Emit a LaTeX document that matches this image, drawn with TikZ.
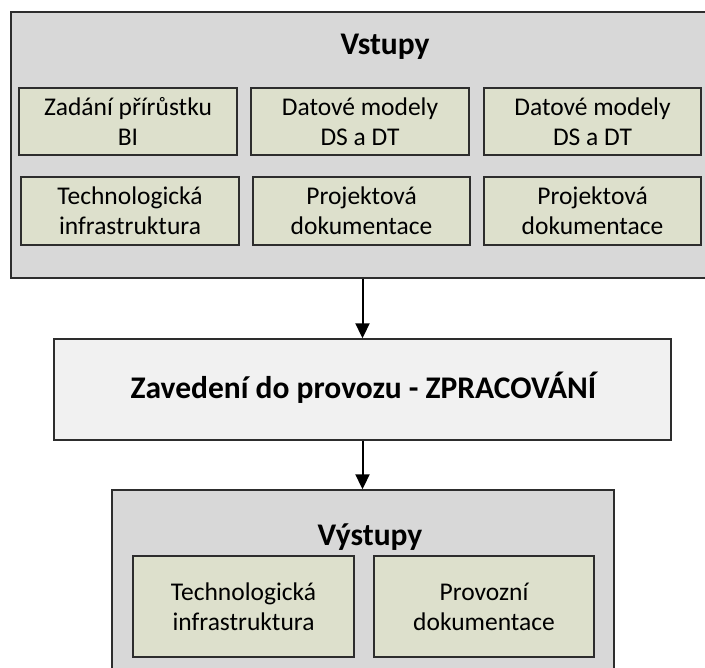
\documentclass[tikz,border=0pt]{standalone}
\usepackage{fontspec}
\setmainfont{Carlito}
\usetikzlibrary{arrows.meta}
\definecolor{outerfill}{RGB}{216,216,216}
\definecolor{innerfill}{RGB}{221,224,204}
\definecolor{midfill}{RGB}{241,241,241}
\definecolor{edge}{RGB}{45,45,45}
\begin{document}
\begin{tikzpicture}[x=1pt,y=-1pt,
  outerbox/.style={draw=edge, line width=1.4pt, fill=outerfill, inner sep=0pt},
  itembox/.style={draw=edge, line width=1.4pt, fill=innerfill, align=center, inner sep=0pt,
    font=\fontsize{25.5}{30}\selectfont},
  midbox/.style={draw=edge, line width=1.4pt, fill=midfill, inner sep=0pt},
  title/.style={font=\fontsize{31.5}{36}\selectfont\bfseries, anchor=base, inner sep=0pt},
  flow/.style={line width=2pt, -{Triangle[length=15pt,width=14pt]}}]
\useasboundingbox (0,0) rectangle (705,668);
\clip (0,0) rectangle (705,668);
% inputs
\node[outerbox, minimum width=729pt, minimum height=266pt] (inputs) at (375.5,145) {};
\node[title] (intitle) at (385,55) {Vstupy};
\node[itembox, minimum width=218pt, minimum height=67pt] (i1) at (128,121.5) {Zadání přírůstku\\BI};
\node[itembox, minimum width=218pt, minimum height=67pt] (i2) at (360,121.5) {Datové modely\\DS a DT};
\node[itembox, minimum width=217pt, minimum height=67pt] (i3) at (592.5,121.5) {Datové modely\\DS a DT};
\node[itembox, minimum width=218pt, minimum height=68pt] (i4) at (130,211) {Technologická\\infrastruktura};
\node[itembox, minimum width=217pt, minimum height=68pt] (i5) at (361.5,211) {Projektová\\dokumentace};
\node[itembox, minimum width=217pt, minimum height=68pt] (i6) at (592.5,211) {Projektová\\dokumentace};
% processing
\node[midbox, minimum width=617pt, minimum height=101pt] (proc) at (362.5,389.5) {};
\node[title] (proctitle) at (363.5,399) {Zavedení do provozu - ZPRACOVÁNÍ};
% outputs
\node[outerbox, minimum width=502pt, minimum height=190pt] (outputs) at (363,585) {};
\node[title] (outtitle) at (370,545) {Výstupy};
\node[itembox, minimum width=221pt, minimum height=101pt] (o1) at (243.5,606.5) {Technologická\\infrastruktura};
\node[itembox, minimum width=220pt, minimum height=101pt] (o2) at (484,606.5) {Provozní\\dokumentace};
% connectors
\draw[flow] (proc.north |- inputs.south) -- (proc.north);
\draw[flow] (proc.south) -- (proc.south |- outputs.north);
\end{tikzpicture}
\end{document}
